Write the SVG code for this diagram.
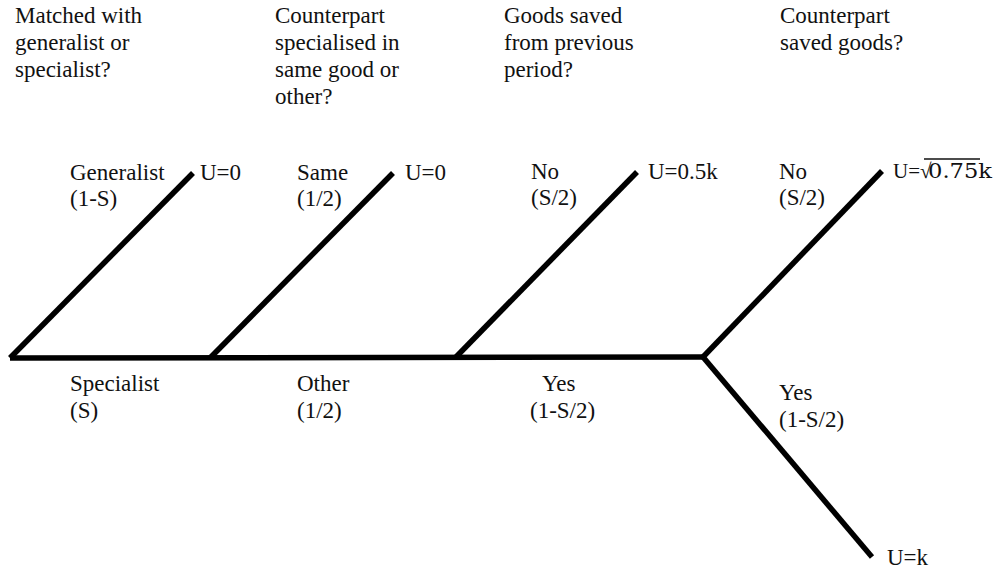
<svg xmlns="http://www.w3.org/2000/svg" width="995" height="572" viewBox="0 0 995 572">
<style>
.t text{font-family:'Times New Roman','Liberation Serif','DejaVu Serif',serif;font-size:23px;fill:#111}
.br{stroke:#000;stroke-width:5.5;stroke-linecap:butt;stroke-linejoin:miter;fill:none}
</style>
<rect width="995" height="572" fill="#fff"/>
<g class="t">
<g id="questions">
<text x="15" y="23">Matched with</text><text x="15" y="50">generalist or</text><text x="15" y="77">specialist?</text>
<text x="275" y="23">Counterpart</text><text x="275" y="50">specialised in</text><text x="275" y="77">same good or</text><text x="275" y="104">other?</text>
<text x="504" y="23">Goods saved</text><text x="504" y="50">from previous</text><text x="504" y="77">period?</text>
<text x="780" y="23">Counterpart</text><text x="780" y="50">saved goods?</text>
</g>
<g id="node-generalist"><text x="70" y="180">Generalist</text><text x="70" y="206">(1-S)</text><text x="200" y="180">U=0</text></g>
<g id="node-specialist"><text x="70" y="391">Specialist</text><text x="70" y="418">(S)</text></g>
<g id="node-same"><text x="297" y="180">Same</text><text x="297" y="206">(1/2)</text><text x="405" y="180">U=0</text></g>
<g id="node-other"><text x="297" y="391">Other</text><text x="297" y="418">(1/2)</text></g>
<g id="node-no1"><text x="531" y="179">No</text><text x="531" y="205">(S/2)</text><text x="648" y="179">U=0.5k</text></g>
<g id="node-yes1"><text x="542" y="391">Yes</text><text x="530" y="418">(1-S/2)</text></g>
<g id="node-no2"><text x="779" y="179">No</text><text x="779" y="205">(S/2)</text>
<text x="893" y="178" style="font-size:21px">U=√<tspan x="928" style="font-family:'DejaVu Serif',serif" textLength="64" lengthAdjust="spacingAndGlyphs">0.75k</tspan></text>
<line x1="924" y1="159" x2="980" y2="159" stroke="#111" stroke-width="1.3"/></g>
<g id="node-yes2"><text x="779" y="400">Yes</text><text x="779" y="427">(1-S/2)</text><text x="887" y="565">U=k</text></g>
</g>
<g id="connectors">
<path class="br" d="M10 358 L703 357"/>
<path class="br" d="M10 358 L193 173"/>
<path class="br" d="M210 358 L393 173"/>
<path class="br" d="M456 357 L637 172"/>
<path class="br" d="M703 357 L882 171"/>
<path class="br" d="M703 357 L872 557"/>
</g>
</svg>
